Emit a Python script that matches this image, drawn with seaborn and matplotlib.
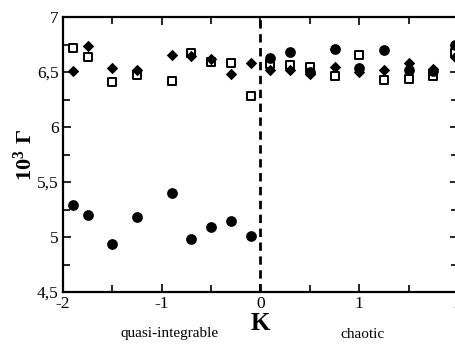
import numpy as np
import pandas as pd
import matplotlib
matplotlib.use("Agg")
import matplotlib.pyplot as plt
import seaborn as sns
from matplotlib.ticker import MultipleLocator, FixedLocator, FuncFormatter

# values
k_quasi = [-1.9, -1.75, -1.5, -1.25, -0.9, -0.7, -0.5, -0.3, -0.1]
k_chaos = [0.1, 0.3, 0.5, 0.75, 1.0, 1.25, 1.5, 1.75, 1.97]
k_all = k_quasi + k_chaos

circles = [5.29, 5.20, 4.94, 5.185, 5.40, 4.98, 5.09, 5.15, 5.01,
           6.625, 6.685, 6.50, 6.71, 6.54, 6.70, 6.52, 6.51, 6.745]
squares = [6.72, 6.64, 6.41, 6.47, 6.42, 6.675, 6.59, 6.58, 6.285,
           6.57, 6.565, 6.55, 6.46, 6.655, 6.43, 6.44, 6.46, 6.67]
diamonds = [6.51, 6.74, 6.54, 6.52, 6.655, 6.645, 6.62, 6.48, 6.58,
            6.52, 6.52, 6.48, 6.55, 6.50, 6.52, 6.585, 6.53, 6.64]

y_ticks = [4.5, 5, 5.5, 6, 6.5, 7]
x_ticks = [-2, -1, 0, 1, 2]

sns.set_style("ticks")
plt.rcParams['font.family'] = ['Liberation Serif', 'DejaVu Serif']
plt.rcParams['mathtext.fontset'] = 'custom'
plt.rcParams['mathtext.rm'] = 'Liberation Serif'
plt.rcParams['mathtext.bf'] = 'Liberation Serif:bold'
plt.rcParams['axes.unicode_minus'] = False
plt.rcParams['text.color'] = 'black'
plt.rcParams['axes.labelcolor'] = 'black'
plt.rcParams['xtick.color'] = 'black'
plt.rcParams['ytick.color'] = 'black'

df = pd.DataFrame({'K': k_all, 'circ': circles, 'sq': squares, 'dia': diamonds})

fig = plt.figure(figsize=(4.56, 3.44), dpi=100)
ax = fig.add_axes([63 / 456, 1 - 292 / 344, 395 / 456, 275 / 344])

sns.scatterplot(data=df, x='K', y='sq', marker='s', s=34, facecolor='white',
                edgecolor='black', linewidth=1.4, ax=ax, zorder=3)
sns.scatterplot(data=df, x='K', y='dia', marker='D', s=34, color='black',
                edgecolor='black', linewidth=0, ax=ax, zorder=4)
sns.scatterplot(data=df, x='K', y='circ', marker='o', s=60, color='black',
                edgecolor='black', linewidth=0, ax=ax, zorder=5)

ax.axvline(0, color='black', linestyle=(0, (3, 2)), linewidth=2, zorder=2)

ax.set_xlim(-2, 2)
ax.set_ylim(4.5, 7)
ax.xaxis.set_major_locator(FixedLocator(x_ticks))
ax.xaxis.set_minor_locator(MultipleLocator(0.5))
ax.yaxis.set_major_locator(FixedLocator(y_ticks))
ax.yaxis.set_minor_locator(MultipleLocator(0.25))
ax.yaxis.set_major_formatter(FuncFormatter(lambda v, p: ('%g' % v).replace('.', ',')))
ax.tick_params(which='both', direction='in', top=True, right=True,
               labelsize=12.5, width=1.2, color='black', labelcolor='black')
ax.tick_params(which='major', length=6, pad=3)
ax.tick_params(which='minor', length=5)
for s in ax.spines.values():
    s.set_linewidth(1.6)
    s.set_color('black')

ax.set_xlabel('K', fontsize=18, fontweight='bold', labelpad=0, color='black')
ax.set_ylabel(r'$\mathbf{10^3\ \Gamma}$', fontsize=16, labelpad=0, color='black')

fig.text(170 / 456, 1 - 334 / 344, 'quasi-integrable', ha='center', va='center',
         fontsize=11, color='black')
fig.text(363 / 456, 1 - 335 / 344, 'chaotic', ha='center', va='center',
         fontsize=11, color='black')

fig.savefig('out.png', dpi=100)
